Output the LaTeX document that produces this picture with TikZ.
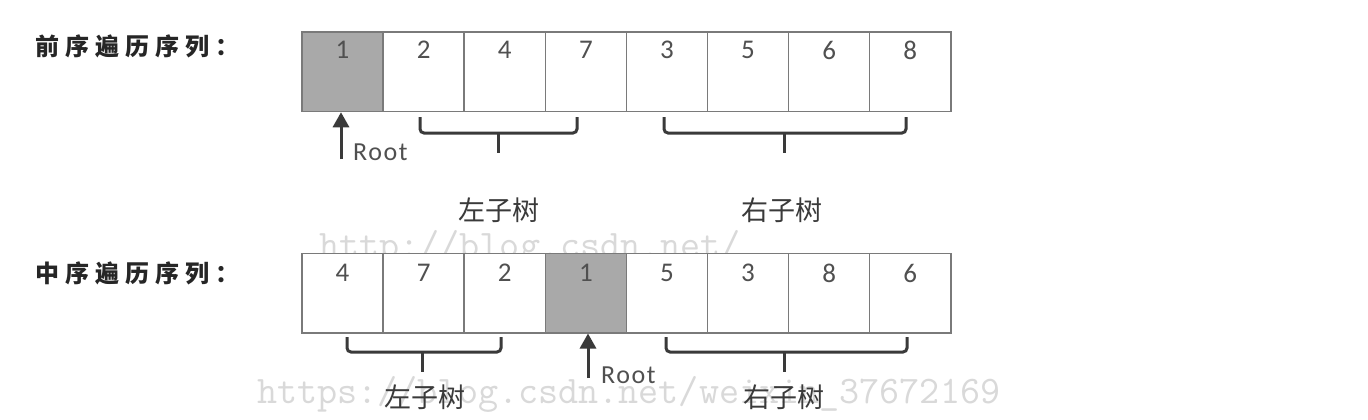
\documentclass[tikz,border=0pt]{standalone}
\usepackage{fontspec}
\setmainfont{Carlito}
\newfontfamily\cjk{Noto Sans CJK SC}
\newfontfamily\cjkhead[LetterSpace=25]{Noto Sans CJK SC}
\newfontfamily\rootfont[LetterSpace=6]{Carlito}
\usetikzlibrary{arrows.meta}
\definecolor{cellgray}{HTML}{A9A9A9}
\definecolor{cellborder}{HTML}{7A7A7A}
\definecolor{numcol}{HTML}{505050}
\definecolor{inkcol}{HTML}{3A3A3A}
\definecolor{wmcol}{HTML}{D9D9D9}
\begin{document}
\begin{tikzpicture}[x=1pt,y=-1pt,
  cell/.style={draw=cellborder,line width=1.5pt,minimum width=81.1pt,minimum height=79.5pt,inner sep=0pt},
  num/.style={inner sep=0pt,text=numcol,font=\fontsize{27}{27}\selectfont},
  head/.style={inner sep=0pt,anchor=west,text=black!85,font=\cjkhead\bfseries\fontsize{24}{24}\selectfont},
  sub/.style={inner sep=0pt,text=inkcol,font=\cjk\fontsize{27}{27}\selectfont},
  rootlbl/.style={inner sep=0pt,anchor=west,text=numcol,font=\rootfont\fontsize{26}{26}\selectfont},
  bracepath/.style={draw=inkcol,line width=3pt,rounded corners=4pt},
  rootarrow/.style={draw=inkcol,line width=3pt,-{Triangle[width=16pt,length=15pt]}},
  wm/.style={inner sep=0pt,anchor=base west,text=wmcol,font=\ttfamily\fontsize{39}{39}\selectfont}
]
\useasboundingbox (0,0) rectangle (1368,420);
\fill[white] (0,0) rectangle (1368,420);

% watermarks
\node[wm] (wm1) at (319,257) {http://blog.csdn.net/};
\node[wm] (wm2) at (257,403) {https://blog.csdn.net/weixin\_37672169};

% row labels
\node[head] (lpre) at (35,46) {前序遍历序列：};
\node[head] (lin) at (35,273) {中序遍历序列：};

% preorder cells
\foreach \v/\f [count=\i] in {1/cellgray,2/white,4/white,7/white,3/white,5/white,6/white,8/white} {
  \node[cell,fill=\f] (p\i) at ({302+81.1*(\i-1)+40.55},71.75) {};
  \node[num] (pn\i) at ({302+81.1*(\i-1)+40.55},50) {\v};
}
% inorder cells
\foreach \v/\f [count=\i] in {4/white,7/white,2/white,1/cellgray,5/white,3/white,8/white,6/white} {
  \node[cell,fill=\f] (q\i) at ({302+81.1*(\i-1)+40.55},293) {};
  \node[num] (qn\i) at ({302+81.1*(\i-1)+40.55},273) {\v};
}

% Root arrows
\coordinate (rt1) at (341,159);
\draw[rootarrow] (rt1) -- (rt1 |- p1.south);
\node[rootlbl] (root1) at (353,152) {Root};
\coordinate (rt2) at (588,378);
\draw[rootarrow] (rt2) -- (rt2 |- q4.south);
\node[rootlbl] (root2) at (601,375) {Root};

% braces, preorder
\draw[bracepath] (420,117) -- (420,133) -- (577,133) -- (577,117);
\draw[bracepath] (498,133) -- (498,153);
\draw[bracepath] (664,117) -- (664,133) -- (906,133) -- (906,117);
\draw[bracepath] (784,133) -- (784,153);
% braces, inorder
\draw[bracepath] (347,337) -- (347,352) -- (501,352) -- (501,337);
\draw[bracepath] (422,352) -- (422,372);
\draw[bracepath] (666,337) -- (666,352) -- (907,352) -- (907,337);
\draw[bracepath] (784,352) -- (784,372);

% subtree labels
\node[sub] (l1) at (499,210) {左子树};
\node[sub] (r1) at (782,210) {右子树};
\node[sub] (l2) at (425,397) {左子树};
\node[sub] (r2) at (784,397) {右子树};
\end{tikzpicture}
\end{document}
